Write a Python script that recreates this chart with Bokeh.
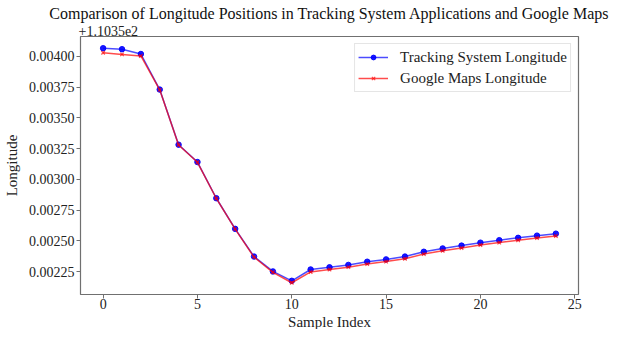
from bokeh.plotting import figure
from bokeh.models import Range1d, Legend, LegendItem, PrintfTickFormatter, FixedTicker, Title
from bokeh.embed import file_html
from bokeh.resources import INLINE

# Data (longitude = 110.35 + offset)
offset_base = 110.35
sample_index = list(range(25))
tracking_lon = [110.354066, 110.354058, 110.354019, 110.353730, 110.353282,
                110.353141, 110.352847, 110.352598, 110.352373, 110.352252,
                110.352176, 110.352268, 110.352286, 110.352305, 110.352331,
                110.352350, 110.352373, 110.352412, 110.352439, 110.352462,
                110.352486, 110.352506, 110.352525, 110.352543, 110.352559]
google_lon = [110.354029, 110.354016, 110.354003, 110.353728, 110.353280,
              110.353139, 110.352845, 110.352596, 110.352368, 110.352245,
              110.352160, 110.352248, 110.352268, 110.352287, 110.352312,
              110.352332, 110.352355, 110.352393, 110.352420, 110.352443,
              110.352467, 110.352487, 110.352506, 110.352524, 110.352540]
y_ticks = [0.00225, 0.00250, 0.00275, 0.00300, 0.00325, 0.00350, 0.00375, 0.00400]
x_ticks = [0, 5, 10, 15, 20, 25]

t_off = [v - offset_base for v in tracking_lon]
g_off = [v - offset_base for v in google_lon]

FONT = "Liberation Serif"
lo = min(min(t_off), min(g_off)); hi = max(max(t_off), max(g_off))
pad = (hi - lo) * 0.05

p = figure(width=619, height=329, output_backend="svg", toolbar_location=None,
           x_range=Range1d(-1.2, 25.2), y_range=Range1d(lo - pad, hi + pad),
           min_border_left=70, min_border_right=41, min_border_top=30, min_border_bottom=0,
           title=None)

# offset text (adjacent to frame), then main title above it
p.add_layout(Title(text="+1.1035e2", align="left", text_font=FONT, text_font_size="14px",
                   text_font_style="normal", text_color="#222222", standoff=1, offset=-2,
                   text_line_height=1.0), "above")
p.add_layout(Title(text="Comparison of Longitude Positions in Tracking System Applications and Google Maps",
                   align="center", text_font=FONT, text_font_size="16px", text_font_style="normal",
                   text_color="#111111", standoff=4), "above")

p.grid.visible = False
p.outline_line_color = "#707070"
p.outline_line_width = 1.2
p.background_fill_color = "white"
p.border_fill_color = "white"

for ax in (p.xaxis, p.yaxis):
    ax.axis_line_color = None
    ax.major_tick_line_color = "#707070"
    ax.major_tick_in = 0
    ax.major_tick_out = 4
    ax.minor_tick_line_color = None
    ax.major_label_text_font = FONT
    ax.major_label_text_font_size = "14px"
    ax.major_label_text_color = "#222222"
    ax.axis_label_text_font = FONT
    ax.axis_label_text_font_size = "15px"
    ax.axis_label_text_font_style = "normal"
    ax.axis_label_text_color = "#222222"

p.xaxis.ticker = FixedTicker(ticks=x_ticks)
p.yaxis.ticker = FixedTicker(ticks=y_ticks)
p.yaxis.formatter = PrintfTickFormatter(format="%.5f")
p.yaxis.axis_label = "Longitude"
p.xaxis.major_label_standoff = 0
p.yaxis.major_label_standoff = 2
p.yaxis.axis_label_standoff = 6

# x-axis label as a title below the axis
p.add_layout(Title(text="Sample Index", align="center", text_font=FONT, text_font_size="15px",
                   text_font_style="normal", text_color="#222222", standoff=0, offset=0,
                   text_line_height=1.0), "below")

l1 = p.line(sample_index, t_off, line_color="blue", line_width=1.5, line_alpha=0.7)
m1 = p.scatter(sample_index, t_off, marker="circle", size=5.5, fill_color="blue", line_color="blue", alpha=0.9)
l2 = p.line(sample_index, g_off, line_color="red", line_width=1.5, line_alpha=0.7)
m2 = p.scatter(sample_index, g_off, marker="x", size=5, line_color="red", line_width=1.2, alpha=0.7)

legend = Legend(items=[LegendItem(label="Tracking System Longitude", renderers=[l1, m1]),
                       LegendItem(label="Google Maps Longitude", renderers=[l2, m2])],
                location="top_right", margin=7, padding=3, spacing=1,
                glyph_width=30, glyph_height=12, label_height=20, label_standoff=12,
                label_text_font=FONT, label_text_font_size="15px", label_text_color="#222222",
                border_line_color="#cccccc", border_line_width=1, background_fill_alpha=0.8)
p.add_layout(legend)

open("out.html", "w").write(file_html(p, INLINE))
